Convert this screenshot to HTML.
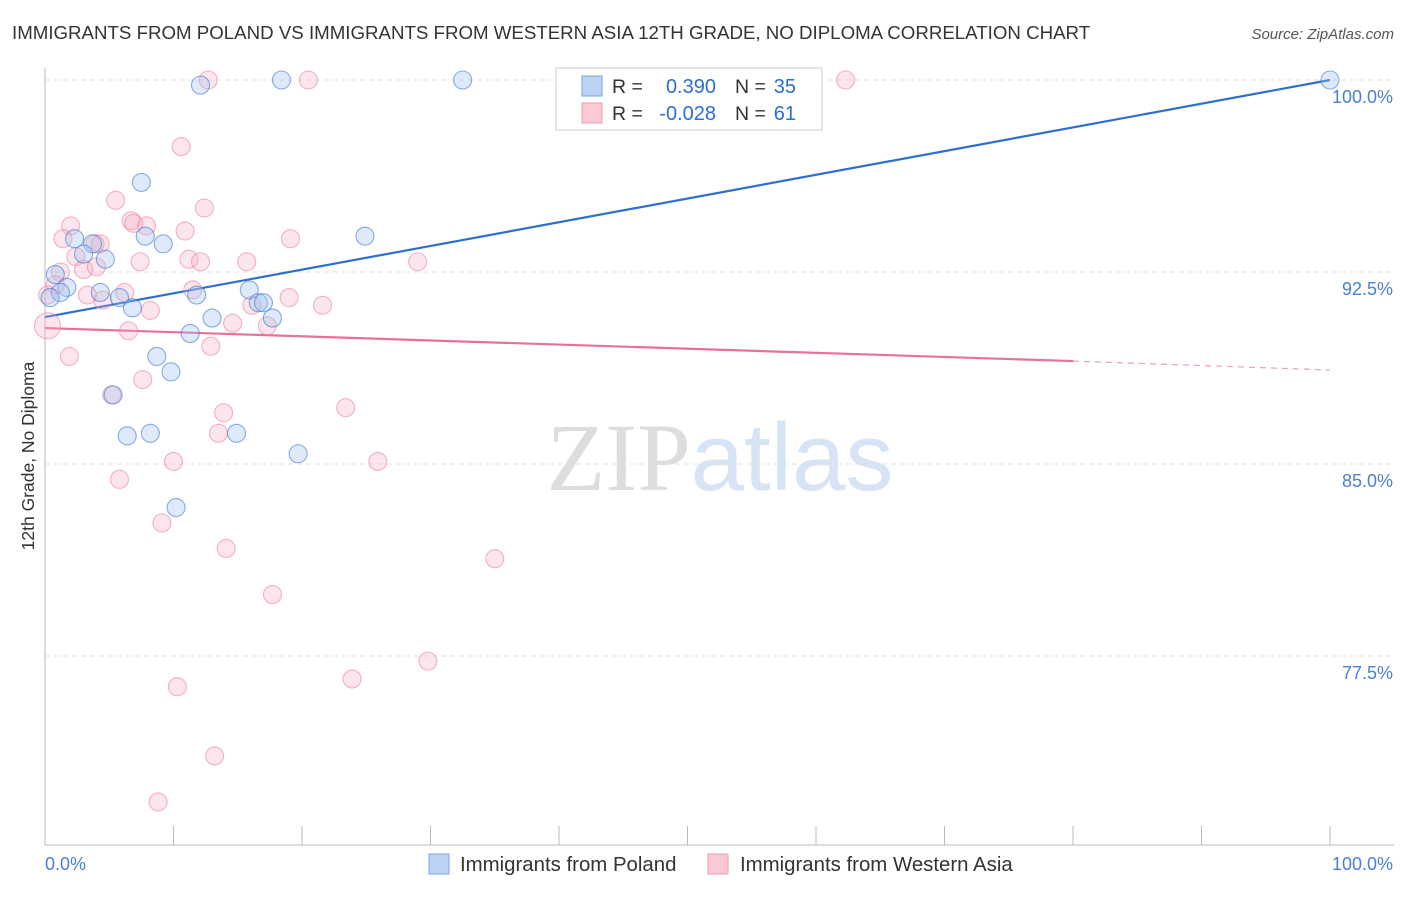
<!DOCTYPE html>
<html><head><meta charset="utf-8"><style>
body{margin:0;background:#fff;font-family:"Liberation Sans",sans-serif}
svg text{font-family:"Liberation Sans",sans-serif}
</style></head><body>
<svg id="chart" width="1406" height="892" viewBox="0 0 1406 892" xmlns="http://www.w3.org/2000/svg">
<text x="12" y="39" font-size="18.7" fill="#333">IMMIGRANTS FROM POLAND VS IMMIGRANTS FROM WESTERN ASIA 12TH GRADE, NO DIPLOMA CORRELATION CHART</text>
<text x="1394" y="39" font-size="15" fill="#555" text-anchor="end" font-style="italic">Source: ZipAtlas.com</text>
<text x="720" y="490" font-size="96" text-anchor="middle"><tspan fill="#ddd" font-family="Liberation Serif">ZIP</tspan><tspan fill="#d6e4f5">atlas</tspan></text>
<g id="grid"></g>
<g id="axes"></g>
<text transform="translate(34,456) rotate(-90)" font-size="17.5" fill="#333" text-anchor="middle">12th Grade, No Diploma</text>
<g id="trends"></g>
<g id="points"></g>
<g>
<rect x="556" y="68" width="266" height="62" fill="#fff" stroke="#ccc"/>
<rect x="582" y="76" width="20" height="20" fill="#bcd3f5" stroke="#7aa4e0"/>
<rect x="582" y="103" width="20" height="20" fill="#f9c9d6" stroke="#ee9cb4"/>
<text x="612" y="93" font-size="19.5" fill="#333">R =</text>
<text x="716" y="93" font-size="20" fill="#2c6fd1" text-anchor="end">0.390</text>
<text x="735" y="93" font-size="19.5" fill="#333">N =</text>
<text x="796" y="93" font-size="20" fill="#2c6fd1" text-anchor="end">35</text>
<text x="612" y="120" font-size="19.5" fill="#333">R =</text>
<text x="716" y="120" font-size="20" fill="#2c6fd1" text-anchor="end">-0.028</text>
<text x="735" y="120" font-size="19.5" fill="#333">N =</text>
<text x="796" y="120" font-size="20" fill="#2c6fd1" text-anchor="end">61</text>
</g>
<g>
<rect x="429" y="854" width="20" height="20" fill="#bcd3f5" stroke="#7aa4e0"/>
<text x="460" y="871" font-size="20.4" fill="#333">Immigrants from Poland</text>
<rect x="708" y="854" width="20" height="20" fill="#f9c9d6" stroke="#ee9cb4"/>
<text x="740" y="871" font-size="20.4" fill="#333">Immigrants from Western Asia</text>
</g>
</svg>
<script>
const yTicks=[100,92.5,85,77.5];
const yTickLabels=["100.0%","92.5%","85.0%","77.5%"];
const xTicks=[0,10,20,30,40,50,60,70,80,90,100];
const polandX=[12.1,18.4,32.5,100,7.5,24.9,7.8,9.2,2.3,3.7,3.0,4.7,0.8,1.7,1.2,0.4,4.3,5.8,6.8,11.8,15.9,16.6,17.0,13.0,17.7,11.3,8.7,9.8,5.3,6.4,8.2,14.9,19.7,10.2];
const polandY=[99.8,100,100,100,96.0,93.9,93.9,93.6,93.8,93.6,93.2,93.0,92.4,91.9,91.7,91.5,91.7,91.5,91.1,91.6,91.8,91.3,91.3,90.7,90.7,90.1,89.2,88.6,87.7,86.1,86.2,86.2,85.4,83.3];
const asiaX=[12.7,20.5,62.3,10.6,5.5,12.4,6.7,7.9,6.9,2.0,1.4,10.9,19.1,3.9,4.3,2.4,7.4,11.2,12.1,15.7,29.0,3.0,4.0,1.2,0.8,0.2,3.3,4.5,6.2,11.5,19.0,21.6,8.2,16.1,14.6,17.3,6.5,0.2,12.9,1.9,7.6,5.2,23.4,13.9,13.5,10.0,25.9,5.8,9.1,35.0,14.1,17.7,29.8,10.3,23.9,13.2,8.8];
const asiaY=[100,100,100,97.4,95.3,95.0,94.5,94.3,94.4,94.3,93.8,94.1,93.8,93.6,93.6,93.1,92.9,93.0,92.9,92.9,92.9,92.6,92.7,92.5,92.0,91.6,91.6,91.4,91.7,91.8,91.5,91.2,91.0,91.2,90.5,90.4,90.2,90.4,89.6,89.2,88.3,87.7,87.2,87.0,86.2,85.1,85.1,84.4,82.7,81.3,81.7,79.9,77.3,76.3,76.6,73.6,71.8];
const polandTrend=[90.74,100];
const asiaTrend=[90.31,89.02,88.67];
const X=v=>45+v*12.85, Y=v=>80+(100-v)*25.6;
const NS="http://www.w3.org/2000/svg";
function mk(tag,attrs,parent){const e=document.createElementNS(NS,tag);for(const k in attrs)e.setAttribute(k,attrs[k]);parent.appendChild(e);return e;}
const grid=document.getElementById('grid'),axes=document.getElementById('axes'),tr=document.getElementById('trends'),pts=document.getElementById('points');
yTicks.forEach((t,i)=>{
 const l=mk('line',{x1:45,x2:1394,y1:Y(t),y2:Y(t),stroke:'#e2e2e2','stroke-dasharray':'5,4'},grid);
 
 
 const tx=mk('text',{x:1393,y:Y(t)+23,'font-size':18,fill:'#4a7fd4','text-anchor':'end'},grid);
 tx.textContent=yTickLabels[i];
 
 
});
const ya=mk('line',{x1:45,x2:45,y1:68,y2:845,stroke:'#bbb'},axes);


const xa=mk('line',{x1:45,x2:1394,y1:845,y2:845,stroke:'#bbb'},axes);


xTicks.forEach(t=>{
 const l=mk('line',{x1:X(t),x2:X(t),y1:826,y2:845,stroke:'#bbb'},axes);
 
 
});
const xl0=mk('text',{x:45,y:870,'font-size':18,fill:'#4a7fd4'},axes);xl0.textContent='0.0%';


const xl1=mk('text',{x:1393,y:870,'font-size':18,fill:'#4a7fd4','text-anchor':'end'},axes);xl1.textContent='100.0%';


asiaX.forEach((x,i)=>{
 const c=mk('circle',{cx:X(x),cy:Y(asiaY[i]),r:(i==37?13:9),fill:'rgba(246,170,192,0.3)',stroke:'rgba(236,130,160,0.6)','stroke-width':1.1},pts);
 
 
});
polandX.forEach((x,i)=>{
 const c=mk('circle',{cx:X(x),cy:Y(polandY[i]),r:9,fill:'rgba(160,196,240,0.35)',stroke:'rgba(60,120,210,0.6)','stroke-width':1.1},pts);
 
 
});
const bl=mk('line',{x1:X(0),y1:Y(polandTrend[0]),x2:X(100),y2:Y(polandTrend[1]),stroke:'#2c6fd1','stroke-width':2.2},tr);


const pl=mk('line',{x1:X(0),y1:Y(asiaTrend[0]),x2:X(80),y2:Y(asiaTrend[1]),stroke:'#e8709a','stroke-width':2.2},tr);


const pd=mk('line',{x1:X(80),y1:Y(asiaTrend[1]),x2:X(100),y2:Y(asiaTrend[2]),stroke:'#e8a0b8','stroke-width':1.2,'stroke-dasharray':'6,5'},tr);


</script>
</body></html>
